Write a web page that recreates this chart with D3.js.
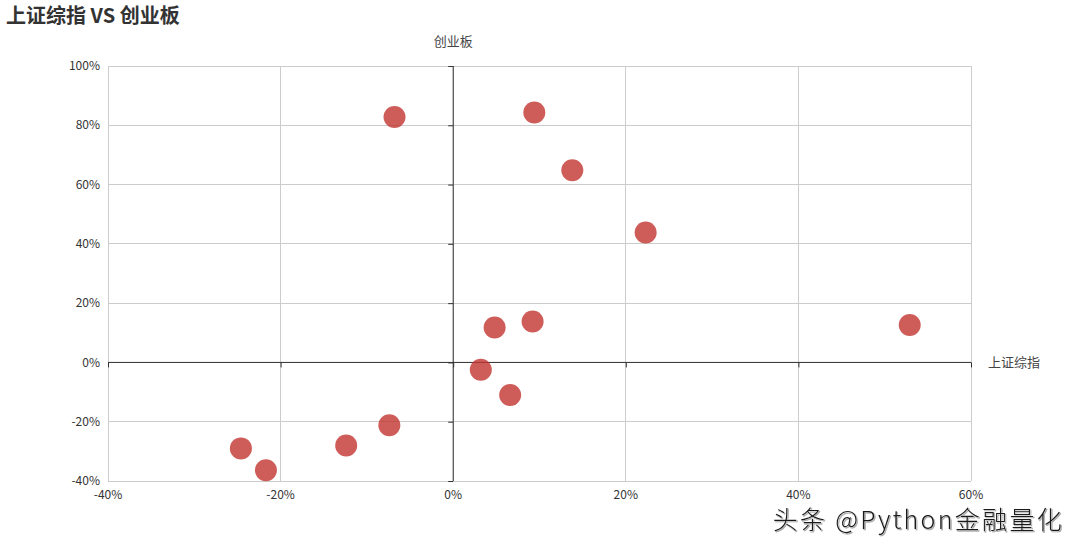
<!DOCTYPE html>
<html>
<head>
<meta charset="utf-8">
<script src="https://cdn.jsdelivr.net/npm/d3@7"></script>
<style>
  body { margin: 0; background: #fff; }
  svg { display: block; font-family: "Noto Sans CJK SC", "Noto Sans", sans-serif; }
</style>
</head>
<body>
<svg id="chart" width="1080" height="548"></svg>
<script>
// 上证综指 vs 创业板 yearly returns (%)
const shIndex = [-6.8, 9.4, 13.8, 22.3, 52.9, 9.2, 4.8, 3.2, 6.6, -7.4, -12.4, -24.6, -21.7];
const cyIndex = [82.8, 84.3, 64.8, 43.8, 12.6, 13.8, 11.8, -2.5, -11.0, -21.2, -28.0, -29.0, -36.4];
const xTicks = [-40, -20, 0, 20, 40, 60];
const yTicks = [-40, -20, 0, 20, 40, 60, 80, 100];

const svg = d3.select("#chart");
const gLeft = 108, gRight = 971, gTop = 66, gBottom = 481;

const x = d3.scaleLinear().domain([-40, 60]).range([gLeft, gRight]);
const y = d3.scaleLinear().domain([-40, 100]).range([gBottom, gTop]);

// title
svg.append("text")
    .attr("x", 6).attr("y", 23)
    .attr("font-size", 20).attr("font-weight", "bold")
    .attr("fill", "#333")
    .text("上证综指 VS 创业板");

// grid
const grid = svg.append("g").attr("stroke", "#ccc").attr("stroke-width", 1).attr("shape-rendering", "crispEdges");
grid.selectAll("line.v").data(xTicks).join("line").attr("class", "v")
    .attr("x1", d => x(d)).attr("x2", d => x(d))
    .attr("y1", gTop).attr("y2", gBottom);
grid.selectAll("line.h").data(yTicks).join("line").attr("class", "h")
    .attr("x1", gLeft).attr("x2", gRight)
    .attr("y1", d => y(d)).attr("y2", d => y(d));

// axes crossing at zero
const xAxis = d3.axisBottom(x).tickValues(xTicks).tickSize(5).tickFormat(d => d + "%");
const yAxis = d3.axisLeft(y).tickValues(yTicks).tickSize(5).tickFormat(d => d + "%");

const gx = svg.append("g").attr("transform", `translate(0,${y(0)})`).call(xAxis);
gx.select(".domain").attr("stroke", "#333").attr("d", `M${gLeft},0H${gRight}`);
gx.selectAll(".tick line").attr("stroke", "#333");
gx.selectAll(".tick text").remove();

const gy = svg.append("g").attr("transform", `translate(${x(0)},0)`).call(yAxis);
gy.select(".domain").attr("stroke", "#333").attr("d", `M0,${gTop}V${gBottom}`);
gy.selectAll(".tick line").attr("stroke", "#333");
gy.selectAll(".tick text").remove();

// tick labels along the outer edges
svg.append("g").selectAll("text").data(xTicks).join("text")
    .attr("x", d => x(d)).attr("y", gBottom + 18)
    .attr("text-anchor", "middle")
    .attr("font-size", 12).attr("fill", "#333")
    .text(d => d + "%");
svg.append("g").selectAll("text").data(yTicks).join("text")
    .attr("x", gLeft - 8).attr("y", d => y(d)).attr("dy", "0.35em")
    .attr("text-anchor", "end")
    .attr("font-size", 12).attr("fill", "#333")
    .text(d => d + "%");

// axis names
svg.append("text")
    .attr("x", x(0)).attr("y", 46)
    .attr("text-anchor", "middle")
    .attr("font-size", 13).attr("fill", "#444")
    .text("创业板");
svg.append("text")
    .attr("x", gRight + 17).attr("y", y(0)).attr("dy", "0.35em")
    .attr("font-size", 13).attr("fill", "#444")
    .text("上证综指");

// points
svg.append("g").selectAll("circle").data(shIndex).join("circle")
    .attr("cx", d => x(d))
    .attr("cy", (d, i) => y(cyIndex[i]))
    .attr("r", 11)
    .attr("fill", "#c23531")
    .attr("fill-opacity", 0.8);

// watermark
svg.append("text")
    .attr("x", 1064).attr("y", 529)
    .attr("text-anchor", "end")
    .attr("font-size", 25)
    .attr("font-weight", 300)
    .attr("letter-spacing", 2.3)
    .attr("fill", "#1a1a1a")
    .attr("stroke", "#fff").attr("stroke-width", 0.6)
    .style("paint-order", "stroke")
    .style("filter", "drop-shadow(1px 1px 0 rgba(0,0,0,0.35))")
    .text("头条 @Python金融量化");
</script>
</body>
</html>
